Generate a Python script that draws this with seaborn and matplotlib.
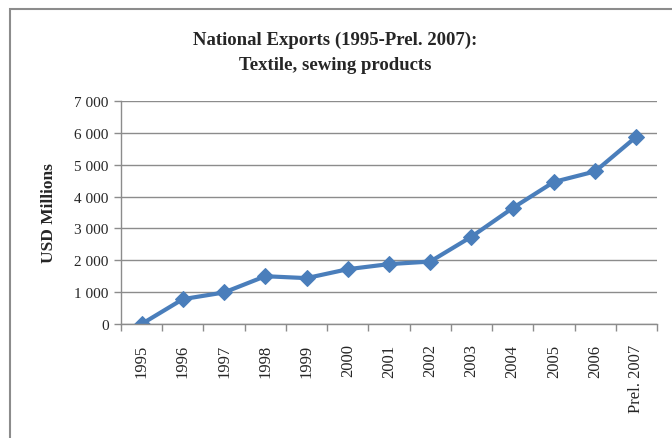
import matplotlib
matplotlib.use("Agg")
import matplotlib.pyplot as plt
import seaborn as sns
import pandas as pd
from matplotlib.patches import Rectangle

years = ["1995", "1996", "1997", "1998", "1999", "2000", "2001", "2002",
         "2003", "2004", "2005", "2006", "Prel. 2007"]
exports = [0, 780, 990, 1500, 1440, 1720, 1880, 1960, 2740, 3640, 4460, 4790, 5880]
yticks = [0, 1000, 2000, 3000, 4000, 5000, 6000, 7000]
ytick_labels = ["0", "1 000", "2 000", "3 000", "4 000", "5 000", "6 000", "7 000"]

sns.set_theme(style="white")
plt.rcParams["font.family"] = ["Liberation Serif", "DejaVu Serif"]

df = pd.DataFrame({"year": years, "value": exports})
df["pos"] = range(len(years))

fig = plt.figure(figsize=(6.72, 4.39), dpi=100)
ax = fig.add_axes([121/672, 1-325/439, (657-121)/672, (325-102)/439])

fig.patches.append(Rectangle((10/672, -0.1), 1.2, 1 - 10/439 + 0.1, transform=fig.transFigure,
                             fill=False, edgecolor="#8c8c8c", linewidth=1.5))

sns.lineplot(data=df, x="pos", y="value", ax=ax, color="#4a7ebb", linewidth=3,
             marker="D", markersize=8, markeredgecolor="#4a7ebb", markerfacecolor="#4a7ebb")

ax.set_xlim(-0.5, len(years) - 0.5)
ax.set_ylim(0, 7000)
ax.set_yticks(yticks)
ax.set_yticklabels(ytick_labels, fontsize=11)
ax.yaxis.grid(True, color="#8c8c8c", linewidth=1)
ax.xaxis.grid(False)
ax.set_axisbelow(True)

ax.set_xticks([p for p in df["pos"]])
ax.set_xticklabels(years, rotation=90, fontsize=12, va="top")
ax.tick_params(axis="x", which="major", length=0, pad=14)
ax.set_xticks([i - 0.5 for i in range(len(years) + 1)], minor=True)
ax.tick_params(axis="x", which="minor", length=5, color="#8c8c8c", width=1, direction="out", bottom=True)
ax.tick_params(axis="y", length=5, color="#8c8c8c", width=1, direction="out", left=True, pad=4)

for s in ["top", "right"]:
    ax.spines[s].set_visible(False)
for s in ["left", "bottom"]:
    ax.spines[s].set_color("#8c8c8c")
    ax.spines[s].set_linewidth(1)

ax.set_xlabel("")
ax.set_ylabel("USD Millions", fontsize=12.5, fontweight="bold", labelpad=12)

fig.text(335/672, 1-53/439, "National Exports (1995-Prel. 2007):\nTextile, sewing products",
         ha="center", va="center", fontsize=13.5, fontweight="bold", linespacing=1.65)

fig.savefig("out.png", dpi=100)
